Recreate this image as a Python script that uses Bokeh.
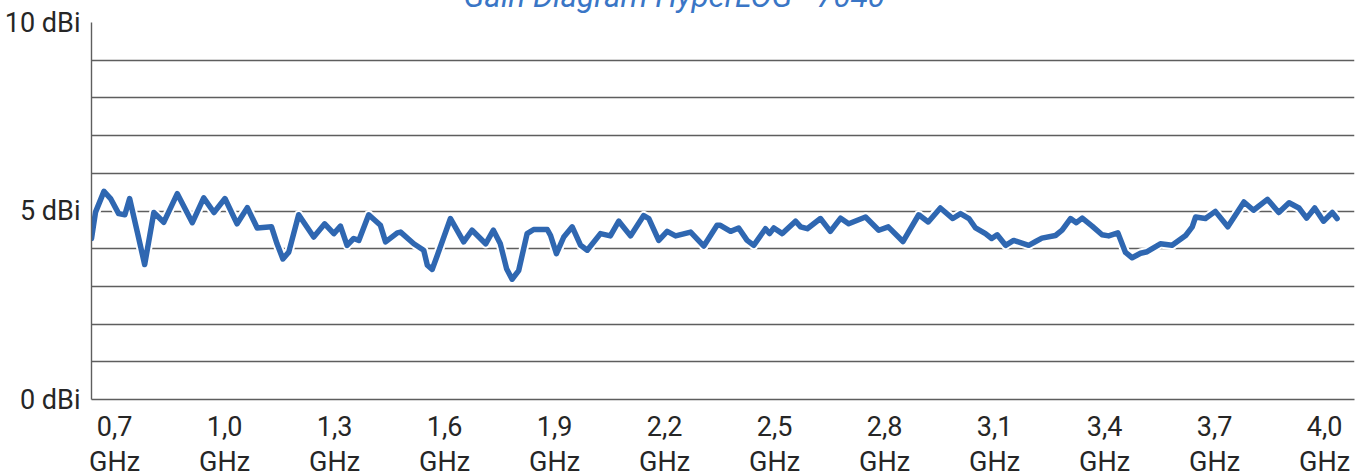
from bokeh.plotting import figure
from bokeh.models import FixedTicker, Range1d
from bokeh.embed import file_html
from bokeh.resources import INLINE

# ---- data ----
freq_ghz = [0.637, 0.648, 0.671, 0.689, 0.711, 0.728, 0.741, 0.762, 0.782, 0.807,
            0.834, 0.871, 0.912, 0.943, 0.971, 1.001, 1.034, 1.062, 1.089, 1.128,
            1.143, 1.159, 1.175, 1.202, 1.243, 1.273, 1.298, 1.316, 1.334, 1.352,
            1.366, 1.393, 1.425, 1.439, 1.471, 1.480, 1.516, 1.543, 1.553, 1.566,
            1.580, 1.616, 1.652, 1.675, 1.712, 1.733, 1.752, 1.769, 1.784, 1.802,
            1.825, 1.843, 1.880, 1.889, 1.905, 1.925, 1.948, 1.971, 1.989, 2.025,
            2.052, 2.075, 2.107, 2.143, 2.157, 2.184, 2.207, 2.230, 2.271, 2.307,
            2.343, 2.352, 2.380, 2.402, 2.425, 2.443, 2.475, 2.486, 2.498, 2.521,
            2.557, 2.571, 2.589, 2.625, 2.652, 2.680, 2.702, 2.748, 2.784, 2.810,
            2.850, 2.893, 2.919, 2.952, 2.986, 3.007, 3.030, 3.048, 3.075, 3.092,
            3.107, 3.130, 3.152, 3.193, 3.212, 3.229, 3.266, 3.284, 3.307, 3.323,
            3.339, 3.366, 3.393, 3.411, 3.436, 3.457, 3.475, 3.498, 3.516, 3.552,
            3.584, 3.621, 3.639, 3.648, 3.675, 3.702, 3.736, 3.780, 3.806, 3.844,
            3.875, 3.903, 3.930, 3.951, 3.973, 3.997, 4.021, 4.034]
gain_dbi = [4.27, 4.97, 5.52, 5.33, 4.93, 4.90, 5.33, 4.44, 3.58, 4.96,
            4.70, 5.46, 4.69, 5.35, 4.96, 5.33, 4.66, 5.09, 4.55, 4.58,
            4.13, 3.73, 3.91, 4.90, 4.31, 4.66, 4.40, 4.60, 4.09, 4.27,
            4.22, 4.90, 4.62, 4.18, 4.42, 4.44, 4.13, 3.96, 3.56, 3.45,
            3.82, 4.80, 4.18, 4.49, 4.13, 4.49, 4.13, 3.47, 3.19, 3.42,
            4.40, 4.51, 4.51, 4.35, 3.87, 4.31, 4.58, 4.09, 3.96, 4.40,
            4.34, 4.73, 4.34, 4.88, 4.80, 4.22, 4.46, 4.34, 4.44, 4.07,
            4.62, 4.62, 4.46, 4.55, 4.22, 4.09, 4.53, 4.40, 4.55, 4.40,
            4.73, 4.58, 4.53, 4.80, 4.46, 4.81, 4.66, 4.84, 4.49, 4.58,
            4.19, 4.90, 4.71, 5.08, 4.80, 4.93, 4.80, 4.55, 4.40, 4.27,
            4.37, 4.09, 4.22, 4.09, 4.19, 4.28, 4.35, 4.49, 4.80, 4.69,
            4.81, 4.60, 4.37, 4.34, 4.42, 3.90, 3.76, 3.88, 3.92, 4.13,
            4.09, 4.35, 4.58, 4.84, 4.80, 4.99, 4.58, 5.24, 5.02, 5.31,
            4.96, 5.22, 5.08, 4.81, 5.08, 4.73, 4.96, 4.80]

x_ticks = [0.7, 1.0, 1.3, 1.6, 1.9, 2.2, 2.5, 2.8, 3.1, 3.4, 3.7, 4.0]
x_tick_labels = ["0,7\nGHz", "1,0\nGHz", "1,3\nGHz", "1,6\nGHz", "1,9\nGHz", "2,2\nGHz",
                 "2,5\nGHz", "2,8\nGHz", "3,1\nGHz", "3,4\nGHz", "3,7\nGHz", "4,0\nGHz"]
y_ticks = [0, 1, 2, 3, 4, 5, 6, 7, 8, 9, 10]
y_tick_labels = ["0 dBi", "", "", "", "", "5 dBi", "", "", "", "", "10 dBi"]
title_text = "Gain Diagram HyperLOG - 7040"

# ---- figure ----
p = figure(width=1368, height=520,
           x_range=Range1d(0.637, 4.0815), y_range=Range1d(0, 10),
           output_backend="svg", toolbar_location=None,
           min_border_left=91, min_border_right=14, min_border_top=60, min_border_bottom=83,
           margin=(-38, 0, -30, 0))
p.outline_line_color = None
p.background_fill_color = "white"
p.border_fill_color = "white"

FONT = "Roboto"
TXT = "#262626"
GRID = "#5e5e5e"

p.title.text = title_text
p.title.align = "left"
p.title.offset = 372
p.title.standoff = 15
p.title.text_font = FONT
p.title.text_font_size = "31.5px"
p.title.text_font_style = "italic"
p.title.text_color = "#3a76c6"

p.xgrid.visible = False
p.ygrid.ticker = FixedTicker(ticks=y_ticks)
p.ygrid.grid_line_color = GRID
p.ygrid.grid_line_width = 1.4

p.yaxis.ticker = FixedTicker(ticks=y_ticks)
p.yaxis.major_label_overrides = dict(zip(y_ticks, y_tick_labels))
p.xaxis.ticker = FixedTicker(ticks=x_ticks)
p.xaxis.major_label_overrides = dict(zip(x_ticks, x_tick_labels))

for ax in (p.xaxis[0], p.yaxis[0]):
    ax.axis_line_color = GRID
    ax.axis_line_width = 1.4
    ax.major_tick_line_color = None
    ax.minor_tick_line_color = None
    ax.major_tick_out = 0
    ax.major_tick_in = 0
    ax.minor_tick_out = 0
    ax.major_label_text_font = FONT
    ax.major_label_text_font_size = "27px"
    ax.major_label_text_color = TXT

p.yaxis.major_label_standoff = 11
p.xaxis.major_label_standoff = 11
p.xaxis.major_label_text_line_height = 1.1

# white halo then blue line
p.line(freq_ghz, gain_dbi, line_color="white", line_width=9.5,
       line_join="round", line_cap="round")
p.line(freq_ghz, gain_dbi, line_color="#2f67b1", line_width=5.5,
       line_join="round", line_cap="round")

open("out.html", "w").write(file_html(p, INLINE))
